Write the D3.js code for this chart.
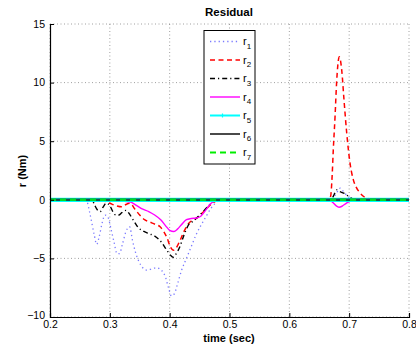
<!DOCTYPE html>
<html><head><meta charset="utf-8">
<script src="https://cdn.jsdelivr.net/npm/d3@7"></script>
<style>body{margin:0;background:#fff}svg{display:block}text{font-family:"Liberation Sans",Arial,sans-serif}</style>
</head><body><svg id="c" width="416" height="347"></svg>
<script>
// ---- data ----
const xTicks = [0.2,0.3,0.4,0.5,0.6,0.7,0.8];
const yTicks = [-10,-5,0,5,10,15];
const seriesNames = ["1","2","3","4","5","6","7"];
const r1 = [[0.2,0],[0.255,0],[0.262,-0.2],[0.266,-1.0],[0.270,-2.0],[0.274,-3.0],[0.278,-3.8],[0.282,-3.2],[0.287,-2.0],[0.292,-1.3],[0.297,-1.5],[0.302,-2.5],[0.307,-3.6],[0.312,-4.6],[0.316,-4.6],[0.321,-3.8],[0.327,-2.7],[0.333,-2.3],[0.338,-3.5],[0.343,-4.5],[0.348,-5.2],[0.355,-5.8],[0.362,-6.0],[0.37,-5.9],[0.378,-5.8],[0.386,-6.0],[0.393,-6.6],[0.398,-7.5],[0.403,-8.2],[0.408,-8.0],[0.413,-7.2],[0.42,-6.0],[0.428,-5.0],[0.436,-4.0],[0.444,-3.0],[0.452,-2.2],[0.46,-1.5],[0.468,-0.8],[0.476,-0.3],[0.485,0],[0.67,0],[0.678,0.5],[0.685,1.0],[0.692,0.6],[0.70,0.2],[0.71,0],[0.8,0]];
const r2 = [[0.2,0],[0.28,0],[0.29,-0.1],[0.30,-0.3],[0.31,-0.5],[0.32,-0.6],[0.327,-0.4],[0.334,-0.3],[0.342,-0.8],[0.35,-1.3],[0.358,-1.7],[0.367,-1.9],[0.376,-2.1],[0.384,-2.3],[0.39,-2.7],[0.396,-3.3],[0.401,-4.0],[0.406,-4.3],[0.411,-4.1],[0.417,-3.5],[0.424,-2.7],[0.432,-2.0],[0.44,-1.7],[0.447,-1.5],[0.455,-1.1],[0.463,-0.7],[0.47,-0.35],[0.478,-0.1],[0.486,0],[0.665,0],[0.669,0.3],[0.6715,2],[0.6735,4.3],[0.6764,7.1],[0.679,10],[0.6835,12.2],[0.6875,11.1],[0.6914,8.5],[0.6959,5.7],[0.7015,3.1],[0.707,1.7],[0.7115,1.1],[0.718,0.6],[0.7237,0.3],[0.7315,0.1],[0.74,0],[0.8,0]];
const r3 = [[0.2,0],[0.27,0],[0.275,-0.5],[0.279,-0.85],[0.284,-1.0],[0.289,-0.6],[0.294,-0.3],[0.30,-0.5],[0.305,-1.0],[0.31,-1.3],[0.315,-1.3],[0.32,-1.1],[0.327,-0.9],[0.334,-1.3],[0.34,-1.8],[0.348,-2.4],[0.357,-2.7],[0.366,-2.9],[0.375,-3.1],[0.386,-3.6],[0.394,-4.2],[0.401,-4.7],[0.406,-4.9],[0.411,-4.6],[0.417,-4.0],[0.424,-3.0],[0.432,-2.1],[0.44,-1.8],[0.448,-1.4],[0.456,-1.0],[0.465,-0.5],[0.475,-0.1],[0.486,0],[0.668,0],[0.6735,0.3],[0.676,0.57],[0.679,0.85],[0.684,0.7],[0.691,0.57],[0.696,0.4],[0.699,0.3],[0.705,0.1],[0.712,0],[0.8,0]];
const r4 = [[0.2,0],[0.30,0],[0.32,-0.1],[0.335,-0.2],[0.345,-0.5],[0.355,-0.8],[0.365,-1.0],[0.375,-1.3],[0.385,-1.7],[0.393,-2.2],[0.40,-2.6],[0.407,-2.7],[0.413,-2.5],[0.42,-2.1],[0.428,-1.7],[0.436,-1.6],[0.445,-1.55],[0.452,-1.4],[0.46,-0.9],[0.468,-0.35],[0.476,-0.1],[0.485,0],[0.665,0],[0.672,-0.2],[0.678,-0.5],[0.683,-0.63],[0.688,-0.55],[0.695,-0.3],[0.70,-0.15],[0.71,-0.05],[0.72,0],[0.8,0]];
const r5 = [[0.2,0],[0.8,0]];
const r6 = [[0.2,0],[0.8,0]];
const r7 = [[0.2,0],[0.8,0]];
const seriesData = [r1,r2,r3,r4,r5,r6,r7];

// ---- styles ----
const styles = [
  {c:"#7a7aff",w:1.3,d:"1.3,3",lc:"#7a7aff"},
  {c:"#ff0000",w:1.5,d:"5,3.5",lc:"#ff0000"},
  {c:"#000000",w:1.4,d:"5,3,1.2,3",lc:"#000000"},
  {c:"#ff00ff",w:1.4,d:null,lc:"#ff00ff"},
  {c:"#00ffff",w:4.2,d:null,m:true,lc:"#00ffff"},
  {c:"#1a5050",w:2.4,d:null,lc:"#4a4a4a"},
  {c:"#00dd22",w:2.6,d:"6,4",lc:"#00ee00"}
];

const svg = d3.select("#c");
const L=50,R=409,T=24,B=317;
const x = d3.scaleLinear().domain([0.2,0.8]).range([L,R]);
const y = d3.scaleLinear().domain([-10,15]).range([B,T]);

// grid
const g = svg.append("g");
g.selectAll(".vg").data(xTicks).enter().append("line")
  .attr("x1",d=>x(d)).attr("x2",d=>x(d)).attr("y1",T).attr("y2",B)
  .attr("stroke","#888").attr("stroke-width",0.8).attr("stroke-dasharray","1,2.5");
g.selectAll(".hg").data(yTicks).enter().append("line")
  .attr("y1",d=>y(d)).attr("y2",d=>y(d)).attr("x1",L).attr("x2",R)
  .attr("stroke","#888").attr("stroke-width",0.8).attr("stroke-dasharray","1,2.5");

// lines
const line = d3.line().x(d=>x(d[0])).y(d=>y(d[1])).curve(d3.curveMonotoneX);
seriesData.forEach((s,i)=>{
  const st=styles[i];
  svg.append("path").attr("d",line(s)).attr("fill","none")
    .attr("stroke",st.c).attr("stroke-width",st.w)
    .attr("stroke-dasharray",st.d);
});

// axes
const xAxis = d3.axisBottom(x).tickValues(xTicks).tickSize(-4).tickPadding(5).tickFormat(d3.format(".1f"));
const yAxis = d3.axisLeft(y).tickValues(yTicks).tickSize(-4).tickPadding(5).tickFormat(d=>d<0?"\u2212"+Math.abs(d):d);
const gx = svg.append("g").attr("transform",`translate(0,${B})`).call(xAxis);
const gy = svg.append("g").attr("transform",`translate(${L},0)`).call(yAxis);
[gx,gy].forEach(a=>{
  a.select(".domain").attr("stroke","#000").attr("stroke-width",1.2);
  a.selectAll(".tick line").attr("stroke","#000");
  a.selectAll("text").attr("font-size",10.5).attr("fill","#000").attr("font-family","Liberation Sans, Arial, sans-serif");
});
gx.selectAll(".tick text").attr("dy","0.6em");
gy.selectAll(".tick").filter(d=>d===-10).select("text").attr("dy","0.1em");

// title & labels
svg.append("text").attr("x",229).attr("y",16).attr("text-anchor","middle")
  .attr("font-weight","bold").attr("font-size",11.5).text("Residual");
svg.append("text").attr("x",229).attr("y",342).attr("text-anchor","middle")
  .attr("font-weight","bold").attr("font-size",11).text("time (sec)");
svg.append("text").attr("transform","translate(26,171) rotate(-90)").attr("text-anchor","middle")
  .attr("font-weight","bold").attr("font-size",11).text("r (Nm)");

// legend
const lg = svg.append("g");
lg.append("rect").attr("x",204).attr("y",30.5).attr("width",51).attr("height",133.5)
  .attr("fill","#fff").attr("stroke","#000").attr("stroke-width",1);
seriesNames.forEach((n,i)=>{
  const yy = 41.5 + i*18.5;
  const st = styles[i];
  lg.append("line").attr("x1",210).attr("x2",240).attr("y1",yy).attr("y2",yy)
    .attr("stroke",st.lc).attr("stroke-width",Math.min(st.w,2)).attr("stroke-dasharray",st.d);
  if(st.m){
    lg.append("path").attr("d",`M${222.5},${yy-2}V${yy+2}M${220.5},${yy}H${224.5}`).attr("stroke",st.lc).attr("stroke-width",1.2);
  }
  const t = lg.append("text").attr("x",243).attr("y",yy+3.5).attr("font-size",11);
  t.append("tspan").text("r");
  t.append("tspan").attr("font-size",8).attr("dy",3.5).text(n);
});
</script></body></html>
